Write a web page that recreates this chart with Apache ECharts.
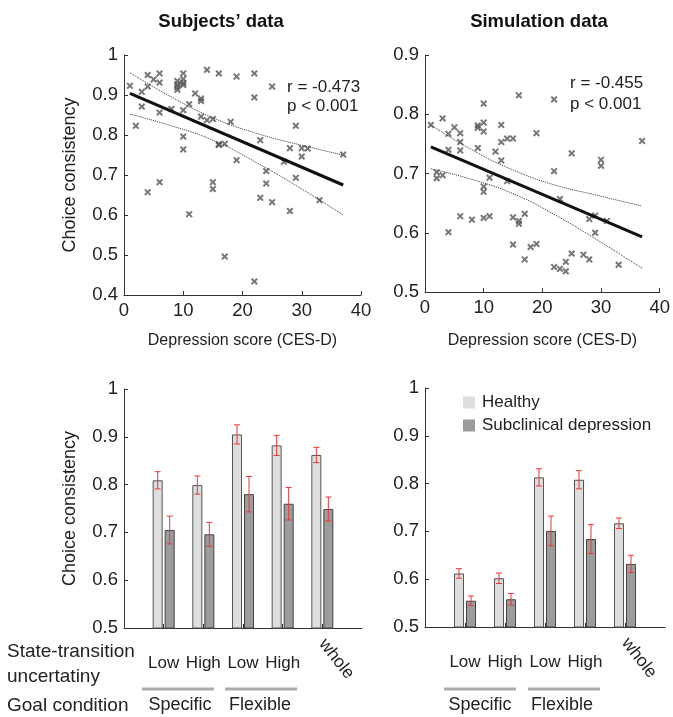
<!DOCTYPE html>
<html>
<head>
<meta charset="utf-8">
<script src="https://cdn.jsdelivr.net/npm/echarts@6/dist/echarts.min.js"></script>
<style>
  html, body { margin: 0; padding: 0; background: #fff; }
  #chart { width: 673px; height: 717px; }
</style>
</head>
<body>
<div id="chart"></div>
<script>
// scatter: depression score vs choice consistency (subjects)
const subjScore = [1,4,6,5,6,4,3,2,3,6,9,9,9,9,10,10,10,10,10,10,10,8,11,12,13,13,13,14,15,14,16,19,22,25,22,18,16,16,17,19,23,24,24,23,25,27,28,29,29,30,30,31,28,33,37,15,15,6,4,11,17,22]
const subjChoice = [0.923,0.95,0.954,0.939,0.931,0.921,0.908,0.823,0.871,0.856,0.935,0.92,0.913,0.926,0.954,0.94,0.93,0.925,0.862,0.796,0.764,0.865,0.877,0.904,0.891,0.885,0.846,0.837,0.84,0.963,0.954,0.946,0.954,0.921,0.894,0.833,0.777,0.775,0.778,0.737,0.787,0.71,0.679,0.643,0.632,0.733,0.767,0.823,0.693,0.767,0.746,0.766,0.61,0.637,0.751,0.682,0.665,0.682,0.657,0.602,0.496,0.434]

// scatter: simulation
const simScore = [1,3,4,5,6,6,4,6,9,9,10,10,10,9,12,13,13,14,15,13,16,19,22,37,25,30,30,22,2,2,3,4,6,8,10,10,10,11,11,14,15,16,16,17,15,17,18,19,23,22,23,24,24,25,27,28,28,29,29,31,33]
const simChoice = [0.782,0.793,0.767,0.778,0.768,0.753,0.74,0.739,0.781,0.777,0.786,0.771,0.818,0.743,0.737,0.782,0.753,0.759,0.759,0.722,0.832,0.768,0.825,0.755,0.734,0.723,0.713,0.704,0.702,0.692,0.697,0.601,0.628,0.622,0.678,0.669,0.625,0.628,0.693,0.687,0.626,0.62,0.615,0.632,0.58,0.555,0.576,0.581,0.657,0.542,0.539,0.551,0.535,0.565,0.563,0.555,0.623,0.629,0.6,0.62,0.546]

// fitted line + confidence band
const fitX = [1, 37]
const subjFit = [0.904, 0.675]
const simFit = [0.745, 0.593]
const bandX = [1, 8, 15, 22, 29, 37]
const subjUpper = [0.956, 0.895, 0.843, 0.806, 0.778, 0.750]
const subjLower = [0.852, 0.823, 0.787, 0.734, 0.674, 0.600]
const simUpper = [0.782, 0.740, 0.706, 0.681, 0.664, 0.645]
const simLower = [0.708, 0.690, 0.666, 0.631, 0.590, 0.540]

// bars
const groupPos = [1, 2, 3, 4, 5]
const groupLabels = ['Low', 'High', 'Low', 'High', 'whole']
const subjHealthy = [0.809, 0.799, 0.905, 0.882, 0.862]
const subjHealthyErr = [0.018, 0.019, 0.020, 0.021, 0.016]
const subjDep = [0.705, 0.696, 0.780, 0.760, 0.749]
const subjDepErr = [0.029, 0.025, 0.037, 0.034, 0.025]
const simHealthy = [0.612, 0.602, 0.813, 0.808, 0.717]
const simHealthyErr = [0.010, 0.011, 0.018, 0.019, 0.011]
const simDep = [0.555, 0.558, 0.701, 0.684, 0.632]
const simDepErr = [0.010, 0.012, 0.031, 0.030, 0.018]

const FONT = 'Liberation Sans, Arial, sans-serif'
const AXIS = '#333'
const TICK_FS = 18.5
const crossSymbol = 'path://M0,2L2,0L5,3L8,0L10,2L7,5L10,8L8,10L5,7L2,10L0,8L3,5Z'

const zip = (a, b) => a.map((v, i) => [v, b[i]])

const valueAxis = (grid, min, max, interval, extra) => Object.assign({
  type: 'value', gridIndex: grid, min: min, max: max, interval: interval,
  axisLine: { show: true, lineStyle: { color: AXIS, width: 1 } },
  axisTick: { show: true, inside: true, length: 4, lineStyle: { color: AXIS } },
  axisLabel: { color: '#222', fontSize: TICK_FS, fontFamily: FONT, margin: 6 },
  splitLine: { show: false }
}, extra || {})

const barXAxis = (grid) => ({
  type: 'value', gridIndex: grid, position: 'bottom', min: 0, max: 6, interval: 1,
  axisLine: { show: true, lineStyle: { color: AXIS } },
  axisTick: { show: true, inside: true, length: 4, customValues: [1, 2, 3, 4, 5], lineStyle: { color: AXIS } },
  axisLabel: {
    customValues: [1, 2, 3, 4], margin: 27, color: '#222', fontSize: 17, fontFamily: FONT,
    formatter: v => groupLabels[v - 1] || ''
  },
  splitLine: { show: false }
})

// second axis on the same grid only for the rotated "whole" label
const wholeAxis = (grid) => ({
  type: 'value', gridIndex: grid, position: 'bottom', offset: 0, min: 0, max: 6, interval: 1,
  axisLine: { show: false }, axisTick: { show: false }, splitLine: { show: false },
  axisLabel: {
    customValues: [5], rotate: -52, margin: 13, color: '#222', fontSize: 17.5, fontFamily: FONT,
    formatter: v => groupLabels[v - 1] || ''
  }
})

const scatterSeries = (axis, xs, ys) => ({
  type: 'scatter', xAxisIndex: axis, yAxisIndex: axis, data: zip(xs, ys),
  symbol: crossSymbol, symbolSize: 7, itemStyle: { color: '#555' }, z: 3
})
const lineSeries = (axis, xs, ys, style) => ({
  type: 'line', xAxisIndex: axis, yAxisIndex: axis, data: zip(xs, ys),
  showSymbol: false, smooth: true, lineStyle: style, silent: true, z: 4
})

const barSeries = (axis, name, vals, fill, border) => ({
  type: 'bar', name: name, xAxisIndex: axis, yAxisIndex: axis,
  data: zip(groupPos, vals), barWidth: 10, barGap: '20%',
  itemStyle: { color: fill, borderColor: border, borderWidth: 1 }
})

// error bars drawn through the axis scale, shifted to sit on the matching bar
const errorSeries = (axis, vals, errs, shift) => ({
  type: 'custom', xAxisIndex: axis, yAxisIndex: axis, z: 10, silent: true,
  data: vals.map((v, i) => [groupPos[i], v - errs[i], v + errs[i]]),
  renderItem: (params, api) => {
    const lo = api.coord([api.value(0), api.value(1)])
    const hi = api.coord([api.value(0), api.value(2)])
    const cx = lo[0] + shift
    const st = { stroke: '#e8393a', lineWidth: 1 }
    return {
      type: 'group', children: [
        { type: 'line', shape: { x1: cx, y1: lo[1], x2: cx, y2: hi[1] }, style: st },
        { type: 'line', shape: { x1: cx - 3, y1: lo[1], x2: cx + 3, y2: lo[1] }, style: st },
        { type: 'line', shape: { x1: cx - 3, y1: hi[1], x2: cx + 3, y2: hi[1] }, style: st }
      ]
    }
  }
})

const txt = (x, y, text, extra) => ({
  type: 'text', x: x, y: y,
  style: Object.assign({ text: text, fill: '#222', font: '18px ' + FONT, textVerticalAlign: 'middle' }, extra || {})
})
const grey = (x1, x2, y) => ({
  type: 'line', shape: { x1: x1, y1: y, x2: x2, y2: y }, style: { stroke: '#ababab', lineWidth: 3 }
})

const HEALTHY = '#dedede'
const DEP = '#9c9c9c'

const chart = echarts.init(document.getElementById('chart'))
chart.setOption({
  animation: false,
  textStyle: { fontFamily: FONT },
  title: [
    { text: 'Subjects’ data', left: 216, top: 7, textAlign: 'center',
      textStyle: { fontSize: 18.5, fontWeight: 'bold', color: '#111', fontFamily: FONT } },
    { text: 'Simulation data', left: 534, top: 7, textAlign: 'center',
      textStyle: { fontSize: 18.5, fontWeight: 'bold', color: '#111', fontFamily: FONT } }
  ],
  legend: {
    data: ['Healthy', 'Subclinical depression'], orient: 'vertical', left: 458, top: 389,
    itemWidth: 12, itemHeight: 12, itemGap: 6, icon: 'rect',
    itemStyle: { borderWidth: 0 },
    textStyle: { fontSize: 17, color: '#222', fontFamily: FONT, padding: [0, 0, 0, 2] }
  },
  grid: [
    { left: 124, top: 55, width: 237, height: 240 },
    { left: 425, top: 55, width: 240, height: 237 },
    { left: 124, top: 389, width: 238, height: 239 },
    { left: 425, top: 388, width: 240, height: 239 }
  ],
  xAxis: [
    valueAxis(0, 0, 40, 10, { name: 'Depression score (CES-D)', nameLocation: 'middle', nameGap: 38,
      nameTextStyle: { fontSize: 16, color: '#222', fontFamily: FONT } }),
    valueAxis(1, 0, 40, 10, { name: 'Depression score (CES-D)', nameLocation: 'middle', nameGap: 41,
      nameTextStyle: { fontSize: 16, color: '#222', fontFamily: FONT } }),
    barXAxis(2),
    barXAxis(3),
    wholeAxis(2),
    wholeAxis(3)
  ],
  yAxis: [
    valueAxis(0, 0.4, 1, 0.1, { name: 'Choice consistency', nameLocation: 'middle', nameGap: 45,
      nameTextStyle: { fontSize: 18, color: '#222', fontFamily: FONT } }),
    valueAxis(1, 0.5, 0.9, 0.1),
    valueAxis(2, 0.5, 1, 0.1, { name: 'Choice consistency', nameLocation: 'middle', nameGap: 45,
      nameTextStyle: { fontSize: 18, color: '#222', fontFamily: FONT } }),
    valueAxis(3, 0.5, 1, 0.1)
  ],
  series: [
    scatterSeries(0, subjScore, subjChoice),
    lineSeries(0, bandX, subjUpper, { color: '#333', width: 1, type: 'dotted' }),
    lineSeries(0, bandX, subjLower, { color: '#333', width: 1, type: 'dotted' }),
    lineSeries(0, fitX, subjFit, { color: '#111', width: 3 }),
    scatterSeries(1, simScore, simChoice),
    lineSeries(1, bandX, simUpper, { color: '#333', width: 1, type: 'dotted' }),
    lineSeries(1, bandX, simLower, { color: '#333', width: 1, type: 'dotted' }),
    lineSeries(1, fitX, simFit, { color: '#111', width: 3 }),

    barSeries(2, 'Healthy', subjHealthy, HEALTHY, '#555'),
    barSeries(2, 'Subclinical depression', subjDep, DEP, '#444'),
    errorSeries(2, subjHealthy, subjHealthyErr, -6),
    errorSeries(2, subjDep, subjDepErr, 6),
    barSeries(3, 'Healthy', simHealthy, HEALTHY, '#555'),
    barSeries(3, 'Subclinical depression', simDep, DEP, '#444'),
    errorSeries(3, simHealthy, simHealthyErr, -6),
    errorSeries(3, simDep, simDepErr, 6)
  ],
  graphic: [
    txt(287, 87, 'r = -0.473', { font: '17px ' + FONT }),
    txt(287, 106, 'p < 0.001', { font: '17px ' + FONT }),
    txt(570, 83, 'r = -0.455', { font: '17px ' + FONT }),
    txt(570, 104, 'p < 0.001', { font: '17px ' + FONT }),
    txt(7, 652, 'State-transition', { font: '19px ' + FONT }),
    txt(7, 677, 'uncertatiny', { font: '19px ' + FONT }),
    txt(7, 706, 'Goal condition', { font: '19px ' + FONT }),
    grey(142, 214, 689), grey(225, 297, 689),
    grey(444, 516, 689), grey(528, 600, 689),
    txt(180, 705, 'Specific', { textAlign: 'center' }),
    txt(260, 705, 'Flexible', { textAlign: 'center' }),
    txt(480, 705, 'Specific', { textAlign: 'center' }),
    txt(562, 705, 'Flexible', { textAlign: 'center' })
  ]
})
</script>
</body>
</html>
